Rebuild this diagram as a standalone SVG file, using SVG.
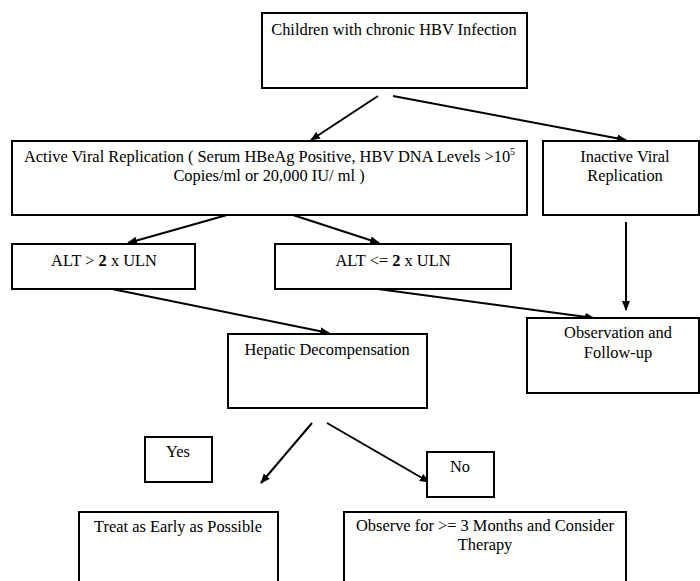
<svg xmlns="http://www.w3.org/2000/svg" width="700" height="581" viewBox="0 0 700 581">
<style>
.box{fill:#fff;stroke:#000;stroke-width:2}
.c{stroke:#000;stroke-width:2;fill:none;marker-end:url(#ah)}
</style>
<defs>
<marker id="ah" markerWidth="10" markerHeight="8" refX="9" refY="4" orient="auto" markerUnits="userSpaceOnUse">
<path d="M0,0 L10,4 L0,8 Z" fill="#000"/>
</marker>
</defs>
<rect width="700" height="581" fill="#fff"/>
<g id="connectors">
<line class="c" x1="378" y1="96" x2="311" y2="140"/>
<line class="c" x1="393" y1="96" x2="626" y2="140"/>
<line class="c" x1="227" y1="215" x2="128" y2="243"/>
<line class="c" x1="293" y1="215" x2="379" y2="243"/>
<line class="c" x1="112" y1="289" x2="329" y2="333"/>
<line class="c" x1="378" y1="289" x2="594" y2="318"/>
<line class="c" x1="626" y1="222" x2="626" y2="310"/>
<line class="c" x1="312" y1="423" x2="261" y2="483"/>
<line class="c" x1="327" y1="423" x2="429" y2="482"/>
</g>
<g font-family="Liberation Serif, Times New Roman, serif" font-size="16.4" fill="#000" text-anchor="middle">
<g id="n-children">
<rect class="box" x="262" y="13" width="265" height="75"/>
<text x="394" y="35">Children with chronic HBV Infection</text>
</g>
<g id="n-active">
<rect class="box" x="12" y="141" width="515" height="74"/>
<text x="24" y="162" text-anchor="start">Active Viral Replication ( Serum HBeAg Positive, HBV DNA Levels &gt;10<tspan font-size="10" dy="-7">5</tspan></text>
<text x="269" y="181">Copies/ml or 20,000 IU/ ml )</text>
</g>
<g id="n-inactive">
<rect class="box" x="543" y="141" width="156" height="74"/>
<text x="625" y="162">Inactive Viral</text>
<text x="625" y="181">Replication</text>
</g>
<g id="n-alt-high">
<rect class="box" x="12" y="244" width="183" height="45"/>
<text x="104" y="266">ALT &gt; <tspan font-weight="bold">2</tspan> x ULN</text>
</g>
<g id="n-alt-low">
<rect class="box" x="275" y="244" width="236" height="45"/>
<text x="393" y="266">ALT &lt;= <tspan font-weight="bold">2</tspan> x ULN</text>
</g>
<g id="n-observation">
<rect class="box" x="527" y="318" width="172" height="75"/>
<text x="618" y="338">Observation and</text>
<text x="618" y="358">Follow-up</text>
</g>
<g id="n-hepatic">
<rect class="box" x="228" y="334" width="199" height="74"/>
<text x="327" y="355">Hepatic Decompensation</text>
</g>
<g id="n-yes">
<rect class="box" x="145" y="437" width="67" height="45"/>
<text x="178" y="457">Yes</text>
</g>
<g id="n-no">
<rect class="box" x="427" y="452" width="67" height="45"/>
<text x="460" y="472">No</text>
</g>
<g id="n-treat">
<rect class="box" x="79" y="512" width="199" height="80"/>
<text x="178" y="532">Treat as Early as Possible</text>
</g>
<g id="n-observe">
<rect class="box" x="344" y="512" width="282" height="80"/>
<text x="485" y="531">Observe for &gt;= 3 Months and Consider</text>
<text x="485" y="550">Therapy</text>
</g>
</g>
</svg>
